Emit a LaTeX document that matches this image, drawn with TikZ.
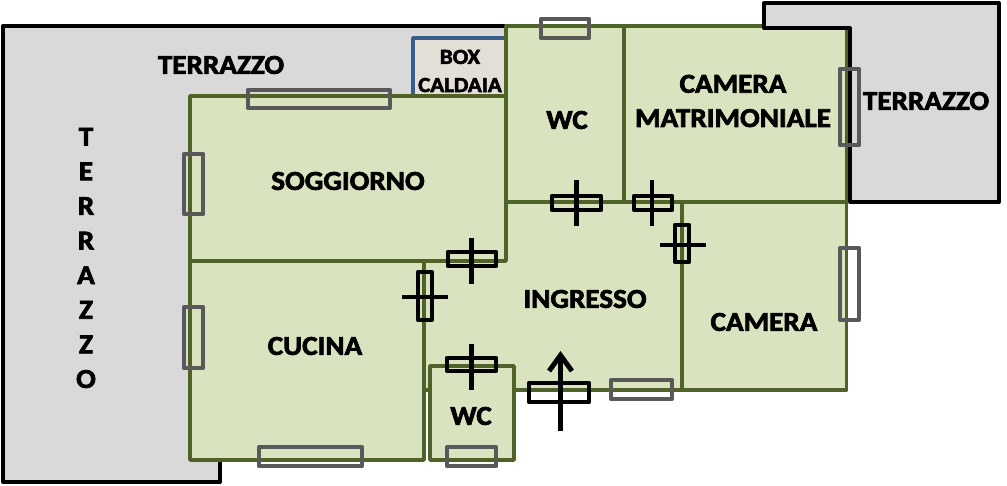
\documentclass[tikz,border=0pt]{standalone}
\usepackage{fontspec}
\setmainfont{Carlito}[BoldFeatures={FakeBold=2.6,FakeStretch=1.07}]
\usepackage{xcolor}
\usetikzlibrary{arrows.meta}
\definecolor{wallgreen}{HTML}{4F6228}
\definecolor{roomgreen}{HTML}{D9E3BF}
\definecolor{terracegray}{HTML}{D9D9D9}
\definecolor{windowgray}{HTML}{595959}
\definecolor{boxblue}{HTML}{385D8A}
\definecolor{boxstone}{HTML}{E4DFD6}
\tikzset{
  room/.style={draw=wallgreen, fill=roomgreen, line width=2pt, line join=round},
  terrace/.style={draw=black, line width=2.3pt, line join=round},
  windowbox/.style={draw=windowgray, line width=2.5pt, line join=round},
  doorbox/.style={draw=black, line width=2.5pt, line join=round},
  doorbar/.style={draw=black, line width=2.8pt},
  label/.style={font=\fontsize{15.5}{18}\selectfont\bfseries, text=black, inner sep=0pt, align=center}
}
\begin{document}
\begin{tikzpicture}[x=0.02cm, y=-0.02cm]
\useasboundingbox (0,0) rectangle (1007,486);

% Left terrace
\fill[terracegray] (3,26) -- (505,26) -- (505,100) -- (220,100) -- (220,482) -- (3,482) -- cycle;
\draw[terrace] (505,26) -- (3,26) -- (3,482) -- (220,482) -- (220,458);

% Boiler box
\filldraw[draw=boxblue, fill=boxstone, line width=2pt, line join=round] (413,96) -- (413,38) -- (506,38) -- (506,96);

% Rooms
\draw[room] (190,96) rectangle (506,261);
\draw[room] (190,261) rectangle (424,460);
\draw[room] (424,261) -- (506,261) -- (506,202) -- (682,202) -- (682,390) -- (424,390) -- cycle;
\draw[room] (430,366) rectangle (514,460);
\draw[room] (506,26) rectangle (624,202);
\draw[room] (624,26) rectangle (846.5,202);
\draw[room] (682,202) rectangle (846.5,390);

% Right terrace
\filldraw[terrace, fill=terracegray] (850,202) -- (999,202) -- (999,3) -- (764,3) -- (764,28) -- (850,28) -- cycle;

% Windows
\draw[windowbox] (541,19) rectangle (589,38);
\draw[windowbox] (248,90) rectangle (390,108);
\draw[windowbox] (184,154) rectangle (203,214);
\draw[windowbox] (184,307) rectangle (203,368);
\draw[windowbox] (259,447) rectangle (362,466);
\draw[windowbox] (447,447) rectangle (496,466);
\draw[windowbox] (611,380) rectangle (672,399);
\draw[windowbox] (840,248) rectangle (859,320);
\draw[windowbox] (840,69) rectangle (859,145);

% Doors
\draw[doorbox] (552,196) rectangle (601,210);
\draw[doorbar] (576.5,180) -- (576.5,226);
\draw[doorbox] (634,196) rectangle (672,210);
\draw[doorbar] (652,180) -- (652,226);
\draw[doorbox] (675,225) rectangle (689,262);
\draw[doorbar] (660,245) -- (706,245);
\draw[doorbox] (448,252) rectangle (496,266);
\draw[doorbar] (471.5,238) -- (471.5,284);
\draw[doorbox] (418,272) rectangle (432,320);
\draw[doorbar] (402,297) -- (448,297);
\draw[doorbox] (447,358) rectangle (496,371);
\draw[doorbar] (471.5,344) -- (471.5,390);

% Entrance
\draw[doorbox] (529,383) rectangle (589,402);
\coordinate (entryfoot) at (560.5,431);
\coordinate (entryhead) at (560.5,351);
\draw[doorbar, -{Straight Barb[length=9pt, width=13pt, line width=2.8pt]}] (entryfoot) -- (entryhead);

% Labels
\node[label] (terrazzotop) at (221,65) {TERRAZZO};
\node[label, font=\fontsize{15.5}{19.7}\selectfont\bfseries] (terrazzoleft) at (86,258) {T\\E\\R\\R\\A\\Z\\Z\\O};
\node[label] (terrazzoright) at (926,101) {TERRAZZO};
\node[label, font=\fontsize{12.2}{16}\selectfont\bfseries] (caldaia) at (460,71) {BOX\\CALDAIA};
\node[label] (soggiorno) at (348,181) {SOGGIORNO};
\node[label] (cucina) at (315,346) {CUCINA};
\node[label] (ingresso) at (585,299) {INGRESSO};
\node[label] (camera) at (764,322) {CAMERA};
\node[label] (wcbig) at (567,120) {WC};
\node[label] (wcsmall) at (471,416) {WC};
\node[label, font=\fontsize{15.5}{19.5}\selectfont\bfseries] (matrimoniale) at (733,101) {CAMERA\\MATRIMONIALE};
\end{tikzpicture}
\end{document}
